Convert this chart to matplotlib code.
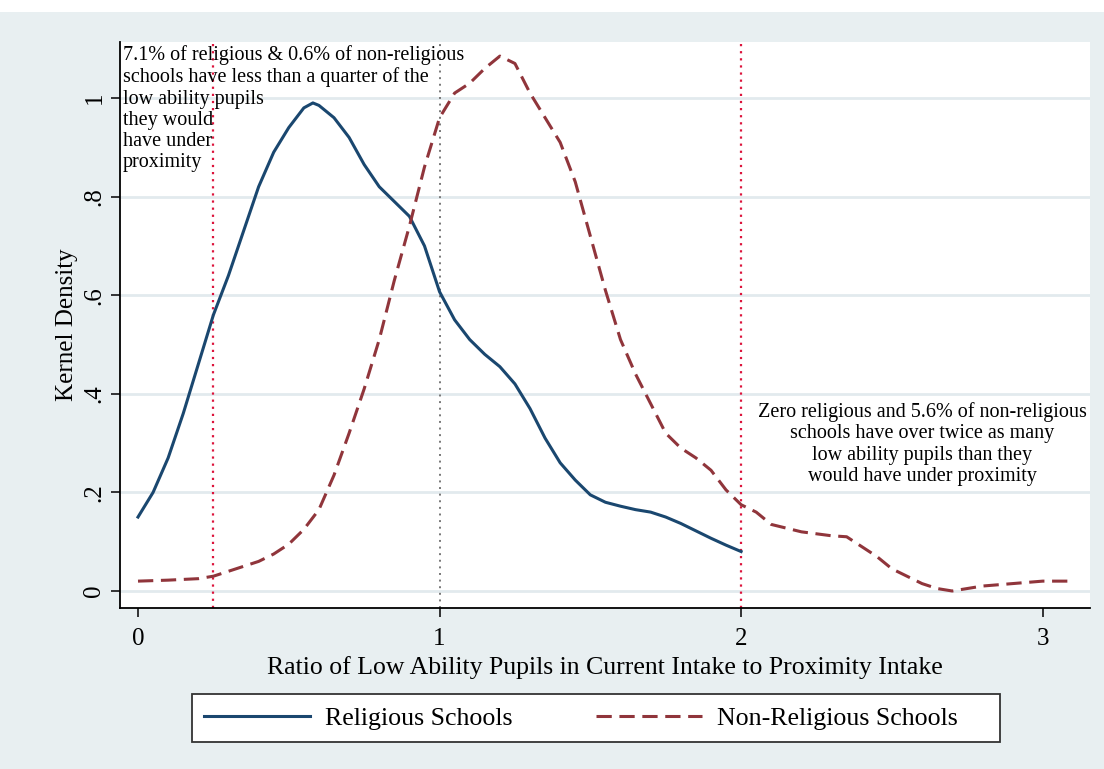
import numpy as np
import matplotlib.pyplot as plt
from matplotlib.patches import Rectangle

# kernel density estimates, read at a common set of ratios
rel_x = [0.0, 0.05, 0.1, 0.15, 0.2, 0.25, 0.3, 0.35, 0.4, 0.45, 0.5, 0.55, 0.58,
         0.6, 0.65, 0.7, 0.75, 0.8, 0.85, 0.9, 0.95, 1.0, 1.05, 1.1, 1.15, 1.2,
         1.25, 1.3, 1.35, 1.4, 1.45, 1.5, 1.55, 1.6, 1.65, 1.7, 1.75, 1.8, 1.85,
         1.9, 1.95, 2.0]
rel_y = [0.15, 0.20, 0.27, 0.36, 0.46, 0.56, 0.64, 0.73, 0.82, 0.89, 0.94, 0.98, 0.99,
         0.985, 0.96, 0.92, 0.865, 0.82, 0.79, 0.76, 0.7, 0.607, 0.55, 0.51, 0.48, 0.455,
         0.42, 0.37, 0.31, 0.26, 0.225, 0.195, 0.18, 0.172, 0.165, 0.16, 0.15, 0.137, 0.122,
         0.107, 0.093, 0.08]

non_x = [0.0, 0.1, 0.2, 0.25, 0.3, 0.4, 0.45, 0.5, 0.55, 0.6, 0.65, 0.7, 0.75, 0.8,
         0.85, 0.9, 0.95, 1.0, 1.05, 1.1, 1.15, 1.2, 1.25, 1.3, 1.35, 1.4, 1.45, 1.5,
         1.55, 1.6, 1.65, 1.7, 1.75, 1.8, 1.85, 1.9, 1.95, 2.0, 2.05, 2.1, 2.2, 2.3,
         2.35, 2.4, 2.45, 2.5, 2.55, 2.6, 2.65, 2.7, 2.75, 2.8, 2.9, 3.0, 3.1]
non_y = [0.02, 0.022, 0.025, 0.03, 0.04, 0.06, 0.075, 0.095, 0.125, 0.165, 0.235, 0.32, 0.41, 0.51,
         0.63, 0.74, 0.86, 0.96, 1.01, 1.03, 1.06, 1.085, 1.07, 1.01, 0.96, 0.91, 0.83, 0.72,
         0.61, 0.51, 0.44, 0.38, 0.32, 0.29, 0.27, 0.245, 0.205, 0.175, 0.16, 0.135, 0.12, 0.112,
         0.11, 0.09, 0.07, 0.045, 0.03, 0.015, 0.005, 0.0, 0.005, 0.01, 0.015, 0.02, 0.02]

cutoffs_red = [0.25, 2.0]
cutoff_grey = 1.0
y_ticks = [0, 0.2, 0.4, 0.6, 0.8, 1.0]
y_ticklabels = ['0', '.2', '.4', '.6', '.8', '1']
x_ticks = [0, 1, 2, 3]

note_low = ('7.1% of religious & 0.6% of non-religious\n'
            'schools have less than a quarter of the\n'
            'low ability pupils\nthey would\nhave under\nproximity')
note_high = ('Zero religious and 5.6% of non-religious\n'
             'schools have over twice as many\n'
             'low ability pupils than they\n'
             'would have under proximity')

bg = '#e8eff1'
grid_col = '#e2eaee'
blue = '#1a476f'
maroon = '#90353b'

plt.rcParams['font.family'] = 'Liberation Serif'

W, H = 1104, 769
fig = plt.figure(figsize=(W / 100, H / 100), dpi=100, facecolor='white')
# shaded graph region below the thin white strip at the top
fig.patches.append(Rectangle((0, 0), 1, 1 - 12 / H, transform=fig.transFigure,
                             facecolor=bg, edgecolor='none', zorder=-5))

ax = fig.add_axes([120 / W, 1 - 608 / H, (1090 - 120) / W, (608 - 42) / H])
ax.set_facecolor('white')
ax.set_xlim(-0.0597, 3.157)
ax.set_ylim(-0.0345, 1.1136)

for t in y_ticks:
    ax.axhline(t, color=grid_col, lw=2, zorder=1)

for c in cutoffs_red:
    ax.axvline(c, color='#dc143c', lw=1.6, ls=(0, (1, 2.2)), zorder=2)
ax.axvline(cutoff_grey, color='#777777', lw=1.4, ls=(0, (1, 2.4)), zorder=2)

ax.plot(rel_x, rel_y, color=blue, lw=2.2, label='Religious Schools', zorder=3)
ax.plot(non_x, non_y, color=maroon, lw=2.2, ls=(0, (5, 2.5)),
        label='Non-Religious Schools', zorder=3)

ax.text(-0.05, 1.107, note_low, fontsize=14.5, va='top', ha='left',
        linespacing=1.16, zorder=4)
ax.text(2.60, 0.298, note_high, fontsize=14.5, va='center', ha='center',
        linespacing=1.16, zorder=4)

for s in ['top', 'right']:
    ax.spines[s].set_visible(False)
for s in ['left', 'bottom']:
    ax.spines[s].set_linewidth(1.3)

ax.set_yticks(y_ticks)
ax.set_yticklabels(y_ticklabels, rotation=90, va='center')
ax.set_xticks(x_ticks)
ax.tick_params(axis='both', length=6.5, width=1.1, labelsize=18, direction='out')
ax.tick_params(axis='x', pad=8)
ax.tick_params(axis='y', pad=4)

ax.set_ylabel('Kernel Density', fontsize=18, labelpad=4)
ax.set_xlabel('Ratio of Low Ability Pupils in Current Intake to Proximity Intake',
              fontsize=18.5, labelpad=4)

# legend box drawn separately so the entries can sit left of centre
fig.patches.append(Rectangle((192 / W, 1 - 742 / H), (1000 - 192) / W, 48 / H,
                             transform=fig.transFigure, facecolor='white',
                             edgecolor='#333333', lw=1.3, zorder=-1))
handles, labels = ax.get_legend_handles_labels()
fig.legend(handles, labels, loc='center left', ncol=2, fontsize=18.6,
           bbox_to_anchor=(204 / W, 1 - 718 / H), frameon=False,
           handlelength=4.1, handletextpad=0.6, borderpad=0, borderaxespad=0,
           columnspacing=3.2)

fig.savefig('out.png', dpi=100, facecolor=fig.get_facecolor())
